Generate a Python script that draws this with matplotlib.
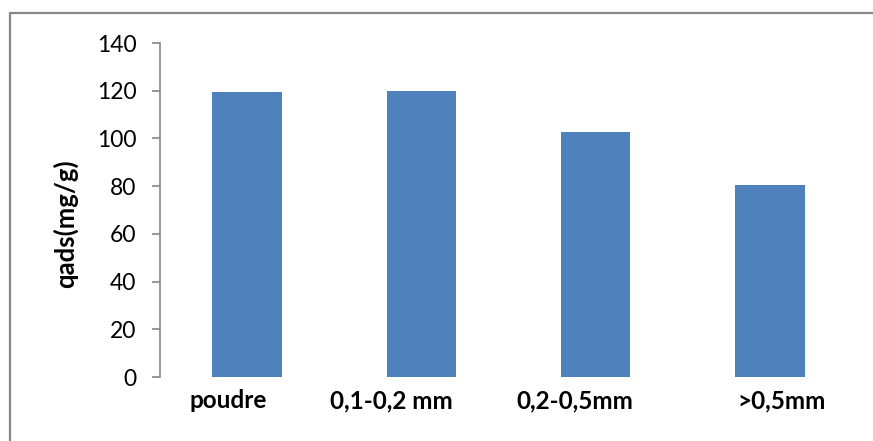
import matplotlib
matplotlib.use("Agg")
import matplotlib.pyplot as plt
from matplotlib.patches import Rectangle
from matplotlib.transforms import ScaledTranslation

# Adsorption capacity by particle size
categories = ["poudre", "0,1-0,2 mm", "0,2-0,5mm", ">0,5mm"]
qads = [119.3, 120.0, 102.6, 80.5]
yticks = [0, 20, 40, 60, 80, 100, 120, 140]
label_shift_px = [-19, -30, -21, 12]

plt.rcParams["font.family"] = ["Lato", "DejaVu Sans"]

fig = plt.figure(figsize=(8.73, 4.41), dpi=100)
ax = fig.add_axes([160 / 873, 64 / 441, 697 / 873, 334 / 441])

x = list(range(len(categories)))
ax.bar(x, qads, width=0.4, color="#4F81BD", edgecolor="none")

ax.set_xlim(-0.5, len(categories) - 0.5)
ax.set_ylim(0, 140)
ax.set_yticks(yticks)
ax.set_yticklabels([str(v) for v in yticks], fontsize=16.5)
ax.tick_params(axis="y", direction="out", length=6, width=1.2, color="#868686", pad=11)

ax.set_xticks(x)
ax.set_xticklabels(categories, fontsize=17.5, fontweight="bold")
ax.tick_params(axis="x", length=0, pad=9)
for lbl, dx in zip(ax.get_xticklabels(), label_shift_px):
    lbl.set_transform(lbl.get_transform() + ScaledTranslation(dx / 100, 0, fig.dpi_scale_trans))

for side in ("top", "right", "bottom"):
    ax.spines[side].set_visible(False)
ax.spines["left"].set_color("#868686")
ax.spines["left"].set_linewidth(1.2)

ax.set_ylabel("qads(mg/g)", fontsize=18.5, fontweight="bold")
ax.yaxis.set_label_coords(-0.117, 0.46)

# Chart frame
fig.patches.append(Rectangle((10 / 873, -0.2), 1.2, 0.2 + 428 / 441,
                             transform=fig.transFigure, fill=False,
                             edgecolor="#878787", linewidth=1.6))

fig.savefig("out.png", dpi=100)
